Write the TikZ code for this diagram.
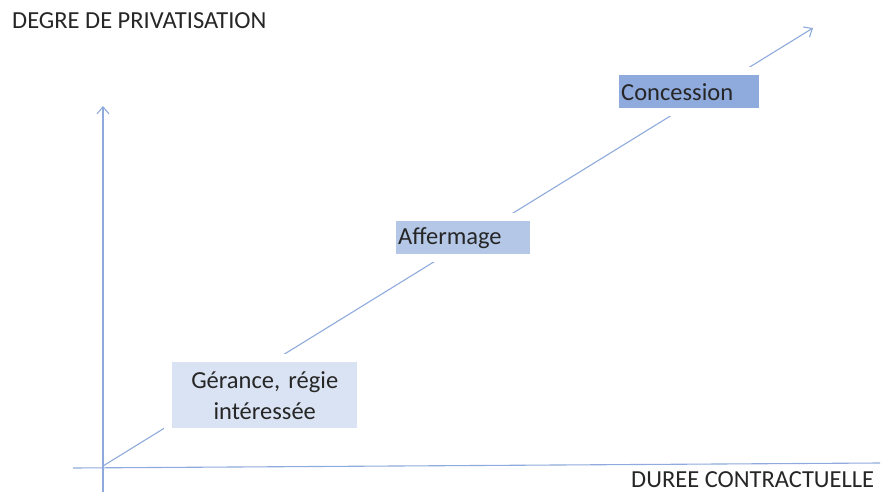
\documentclass[tikz,border=0pt]{standalone}
\usepackage{fontspec}
\setmainfont{Carlito}
\usetikzlibrary{arrows.meta,positioning}
\definecolor{axisblue}{RGB}{143,170,220}
\definecolor{boxlight}{RGB}{218,227,243}
\definecolor{boxmid}{RGB}{180,199,231}
\definecolor{boxdark}{RGB}{143,170,220}
\definecolor{textgray}{RGB}{38,38,38}
\frenchspacing

\begin{document}
\begin{tikzpicture}[x=1pt,y=-1pt,
  axis/.style={draw=axisblue,line width=1.1pt},
  tip/.style={-{Straight Barb[length=7pt,width=12pt]}},
  label/.style={inner sep=0pt,text=textgray,font=\fontsize{24.5}{30}\selectfont},
  degree/.style={preaction={draw=white,line width=16pt},inner ysep=0pt,
    text=textgray,font=\fontsize{24.5}{31}\selectfont}]
\useasboundingbox (0,0) rectangle (883,492);
% axes
\coordinate (O) at (103,466);
\coordinate (hstart) at (73,468);
\coordinate (hend) at (880,463);
\coordinate (vstart) at (103,492);
\coordinate (vtop) at (103,106);
\coordinate (dtip) at (813,28);
\draw[axis] (hstart) -- (hend);
\draw[axis,tip] (vstart) -- (vtop);
\draw[axis,tip] (O) -- (dtip);
% axis titles
\node[label,anchor=base west] (ytitle) at (12,29) {DEGRE DE PRIVATISATION};
\node[label,anchor=base west] (xtitle) at (631,487) {DUREE CONTRACTUELLE};
% stages
\node[degree,fill=boxlight,anchor=north west,minimum width=185pt,minimum height=66pt,
  text width=181pt,inner xsep=2pt,align=center] (gerance) at (172,362)
  {G\'erance, r\'egie\\int\'eress\'ee};
\node[degree,fill=boxmid,anchor=north west,minimum width=134pt,minimum height=33pt,
  text width=130pt,inner xsep=2pt,align=left] (affermage) at (396,221) {Affermage};
\node[degree,fill=boxdark,anchor=north west,minimum width=140pt,minimum height=33pt,
  text width=136pt,inner xsep=2pt,align=left] (concession) at (619,75) {Concession};
\end{tikzpicture}
\end{document}
